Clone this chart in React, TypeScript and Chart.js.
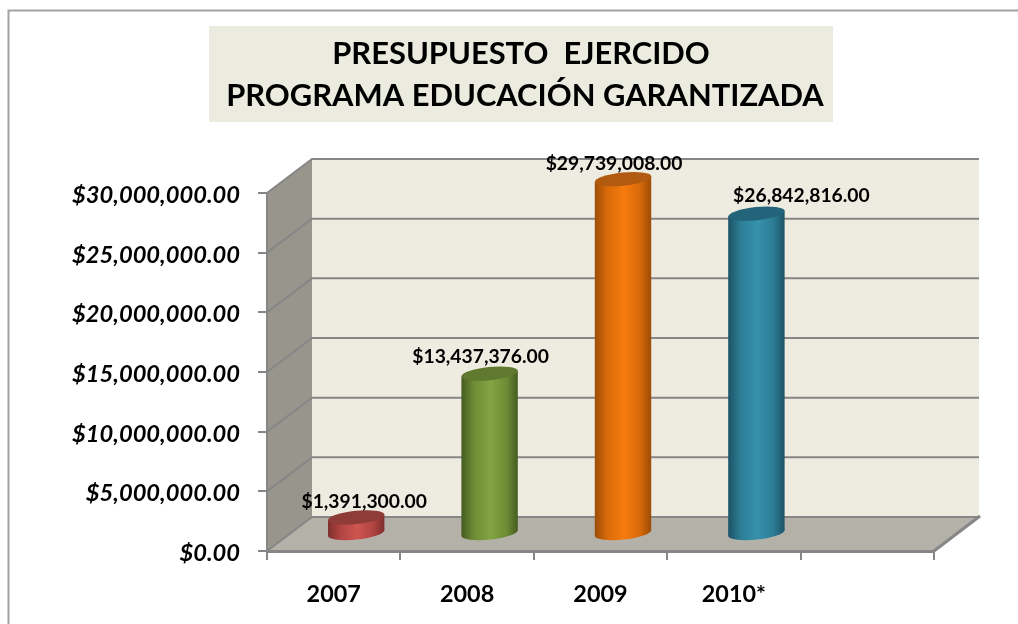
import React, { useEffect, useRef } from "react";
import { Chart, registerables } from "chart.js";

Chart.register(...registerables);

const titleLines = ["PRESUPUESTO  EJERCIDO", "PROGRAMA EDUCACIÓN GARANTIZADA"];
const categories = ["2007", "2008", "2009", "2010*", ""];
const budgetValues: (number | null)[] = [1391300, 13437376, 29739008, 26842816, null];
const tickStep = 5000000;
const axisMax = 30000000;

const bodyEdge = ["#7f2f2d", "#465c20", "#9c4c06", "#1d5266"];
const bodyMid = ["#b04441", "#6d8c36", "#d96a0a", "#2c7d95"];
const bodyBright = ["#cf5551", "#83a443", "#f67b0d", "#3691ab"];
const capColors = ["#8f3b38", "#5f7a2e", "#b25a10", "#24647a"];

const labelShiftX = [8, -9, -9, 45];
const labelShiftY = [-16, -17, -15, -18];

const FONT = "Lato, Carlito, 'Open Sans', sans-serif";
const DEPTH_X = 45;
const DEPTH_Y = 34;
const ELLIPSE_TILT = (-6 * Math.PI) / 180;
const ELLIPSE_RY = 6.6;
const TICK_LABEL_DROP = 2.5;

const money = (v: number) =>
  "$" + v.toLocaleString("en-US", { minimumFractionDigits: 2, maximumFractionDigits: 2 });

const stagePlugin = {
  id: "stage",
  beforeDraw(chart: any) {
    const { ctx, chartArea: a, scales } = chart;
    const { left: l, right: r, bottom: b, top: t } = a;
    ctx.save();
    ctx.fillStyle = "#ffffff";
    ctx.fillRect(0, 0, chart.width, chart.height);

    // frame
    ctx.strokeStyle = "#a3a3a3";
    ctx.lineWidth = 2;
    ctx.beginPath();
    ctx.moveTo(8.5, chart.height);
    ctx.lineTo(8.5, 10.5);
    ctx.lineTo(chart.width, 10.5);
    ctx.stroke();

    // title
    ctx.fillStyle = "#ecebdf";
    ctx.fillRect(209, 26, 624, 96);
    ctx.fillStyle = "#000000";
    ctx.font = `bold 30.9px ${FONT}`;
    ctx.textAlign = "center";
    ctx.textBaseline = "middle";
    ctx.fillText(titleLines[0], 521, 54.5);
    ctx.fillText(titleLines[1], 525, 96.5);

    // side wall, back wall, floor
    ctx.fillStyle = "#98958c";
    ctx.beginPath();
    ctx.moveTo(l, b);
    ctx.lineTo(l, t);
    ctx.lineTo(l + DEPTH_X, t - DEPTH_Y);
    ctx.lineTo(l + DEPTH_X, b - DEPTH_Y);
    ctx.closePath();
    ctx.fill();

    ctx.fillStyle = "#eeebe0";
    ctx.fillRect(l + DEPTH_X, t - DEPTH_Y, r - l, b - t);

    ctx.fillStyle = "#b4b1a9";
    ctx.beginPath();
    ctx.moveTo(l, b);
    ctx.lineTo(r, b);
    ctx.lineTo(r + DEPTH_X, b - DEPTH_Y);
    ctx.lineTo(l + DEPTH_X, b - DEPTH_Y);
    ctx.closePath();
    ctx.fill();

    // gridlines follow the value axis across both walls
    ctx.strokeStyle = "#868686";
    ctx.lineWidth = 2;
    for (const tick of scales.y.ticks) {
      const y = scales.y.getPixelForValue(tick.value);
      ctx.beginPath();
      ctx.moveTo(l, y);
      ctx.lineTo(l + DEPTH_X, y - DEPTH_Y);
      ctx.lineTo(r + DEPTH_X, y - DEPTH_Y);
      ctx.stroke();
    }
    ctx.lineWidth = 3;
    ctx.beginPath();
    ctx.moveTo(r, b);
    ctx.lineTo(r + DEPTH_X + 1, b - DEPTH_Y - 1);
    ctx.stroke();
    ctx.restore();
  },
};

const cylinderPlugin = {
  id: "cylinders",
  afterDatasetsDraw(chart: any) {
    const { ctx } = chart;
    const meta = chart.getDatasetMeta(0);
    meta.data.forEach((bar: any, i: number) => {
      const value = budgetValues[i];
      if (value == null) return;
      const cx = bar.x + DEPTH_X / 2;
      const yTop = bar.y - DEPTH_Y / 2;
      const yBase = bar.base - DEPTH_Y / 2;
      const halfW = bar.width / 2;

      const cos = Math.cos(ELLIPSE_TILT);
      const sin = Math.sin(ELLIPSE_TILT);
      const extremeT = Math.atan2(-ELLIPSE_RY * sin, halfW * cos);
      const dx = halfW * Math.cos(extremeT) * cos - ELLIPSE_RY * Math.sin(extremeT) * sin;
      const dy = halfW * Math.cos(extremeT) * sin + ELLIPSE_RY * Math.sin(extremeT) * cos;

      const grad = ctx.createLinearGradient(cx - dx, 0, cx + dx, 0);
      grad.addColorStop(0, bodyEdge[i]);
      grad.addColorStop(0.22, bodyMid[i]);
      grad.addColorStop(0.52, bodyBright[i]);
      grad.addColorStop(0.8, bodyMid[i]);
      grad.addColorStop(1, bodyEdge[i]);

      ctx.save();
      ctx.fillStyle = grad;
      ctx.beginPath();
      ctx.ellipse(cx, yBase, halfW, ELLIPSE_RY, ELLIPSE_TILT, 0, Math.PI * 2);
      ctx.fill();
      ctx.beginPath();
      ctx.moveTo(cx - dx, yTop - dy);
      ctx.lineTo(cx + dx, yTop + dy);
      ctx.lineTo(cx + dx, yBase + dy);
      ctx.lineTo(cx - dx, yBase - dy);
      ctx.closePath();
      ctx.fill();

      ctx.fillStyle = capColors[i];
      ctx.beginPath();
      ctx.ellipse(cx, yTop, halfW, ELLIPSE_RY, ELLIPSE_TILT, 0, Math.PI * 2);
      ctx.fill();

      ctx.fillStyle = "#000000";
      ctx.font = `bold 19.3px ${FONT}`;
      ctx.textAlign = "center";
      ctx.textBaseline = "middle";
      ctx.fillText(money(value), cx + labelShiftX[i], yTop + labelShiftY[i]);
      ctx.restore();
    });
  },
};

export default function App() {
  const ref = useRef<HTMLCanvasElement>(null);
  useEffect(() => {
    if (!ref.current) return;
    const chart = new Chart(ref.current, {
      type: "bar",
      data: {
        labels: categories,
        datasets: [
          {
            label: "Presupuesto ejercido",
            data: budgetValues,
            backgroundColor: "rgba(0,0,0,0)",
            borderWidth: 0,
            barPercentage: 0.425,
            categoryPercentage: 1,
          },
        ],
      },
      options: {
        responsive: false,
        animation: false,
        layout: { padding: { left: 0, top: 193, right: 84, bottom: 0 } },
        plugins: { legend: { display: false }, tooltip: { enabled: false } },
        scales: {
          x: {
            offset: true,
            afterFit(s: any) {
              s.height = 73;
            },
            border: { display: true, color: "#868686", width: 3 },
            grid: {
              drawOnChartArea: false,
              drawTicks: true,
              tickLength: 9,
              color: "#868686",
              lineWidth: 2,
            },
            ticks: {
              color: "#000000",
              padding: 20,
              autoSkip: false,
              maxRotation: 0,
              font: { family: FONT, size: 23.4, weight: "bold" },
            },
          },
          y: {
            min: 0,
            max: axisMax,
            afterFit(s: any) {
              s.width = 267;
              if (!s.__dropped) {
                s.__dropped = true;
                const compute = s._computeLabelItems;
                s._computeLabelItems = function (area: any) {
                  return compute.call(s, area).map((item: any) => ({
                    ...item,
                    textOffset: item.textOffset + TICK_LABEL_DROP,
                  }));
                };
              }
            },
            border: { display: true, color: "#868686", width: 2 },
            grid: {
              drawOnChartArea: false,
              drawTicks: true,
              tickLength: 9,
              color: "#868686",
              lineWidth: 2,
            },
            ticks: {
              stepSize: tickStep,
              color: "#000000",
              padding: 18,
              font: { family: FONT, size: 23.7, weight: "bold", style: "italic" },
              callback: (v: any) => money(Number(v)),
            },
          },
        },
      },
      plugins: [stagePlugin, cylinderPlugin],
    } as any);
    return () => chart.destroy();
  }, []);
  return (
    <div style={{ position: "absolute", left: 0, top: 0, width: 1018, height: 624, overflow: "hidden" }}>
      <canvas ref={ref} width={1018} height={624} style={{ display: "block" }} />
    </div>
  );
}
